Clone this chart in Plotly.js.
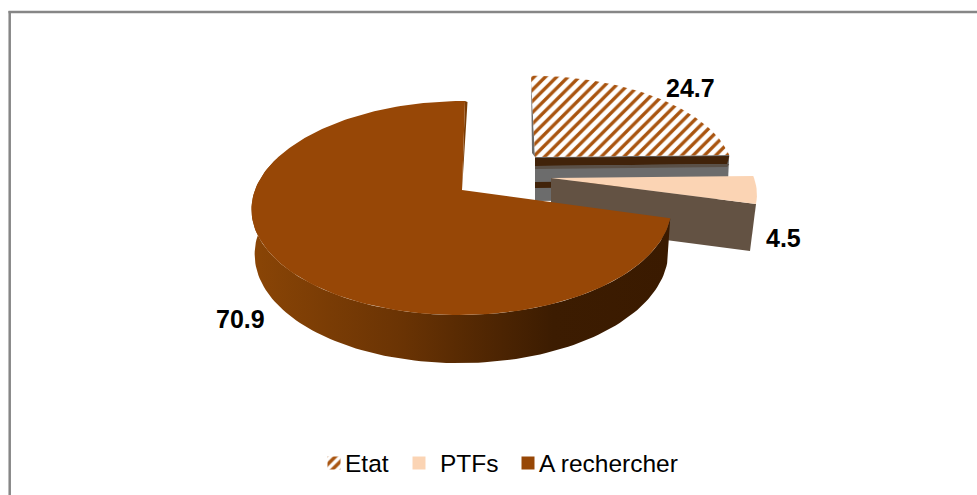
<!DOCTYPE html>
<html><head><meta charset="utf-8">
<script src="https://cdn.plot.ly/plotly-3.0.1.min.js"></script>
<style>html,body{margin:0;padding:0;background:#fff}#c{width:977px;height:495px}</style>
</head><body><div id="c"></div>
<script>
const categories = ["Etat", "PTFs", "A rechercher"];
const values = [24.7, 4.5, 70.9];
const topColors = ["#a9540f", "#FBD4B4", "#974706"];
const labelPos = [[690, 88], [783, 238], [240, 319]];
const legendSwatchX = [334, 419, 528];
const legendTextX = [345, 440, 539];

const total = values.reduce((a, b) => a + b, 0);
const edges = [0];
values.forEach(v => edges.push(edges[edges.length - 1] + v / total * 360));

const P = 0.168;
const geo = [
  {ax: 535, ay: 157, K: 195, k: 95, s: -4},
  {ax: 551, ay: 178, K: 203, k: 96, s: 0},
  {ax: 462, ay: 190, K: 207, k: 104, s: 3}
];
function pt(g, deg, depth, shrink) {
  const t = deg * Math.PI / 180, u = Math.sin(t), v = -Math.cos(t), w = 1 - P * v;
  const sc = shrink === undefined ? 1 : shrink;
  return [g.ax + sc * (g.K * u / w - g.s * v), g.ay + sc * (g.k * v / w) + (depth || 0)];
}
function arc(g, a, b, depth, shrink) {
  const n = Math.max(2, Math.ceil(Math.abs(b - a) / 1.5)), out = [];
  for (let i = 0; i <= n; i++) out.push(pt(g, a + (b - a) * i / n, depth, shrink));
  return out;
}
function poly(points, extra) {
  return Object.assign({
    type: "scatter", mode: "lines", x: points.map(p => p[0]), y: points.map(p => p[1]),
    fill: "toself", line: {width: 0}, showlegend: false, hoverinfo: "skip"
  }, extra);
}
const apex = g => [g.ax, g.ay];
const traces = [];

// Etat: radial wall with its banded side, then the hatched top
const gE = geo[0], rimE = pt(gE, edges[1]);
function band(d0, d1, color) {
  traces.push(poly([[gE.ax, gE.ay + d0], [rimE[0], rimE[1] + d0], [rimE[0] - 2, rimE[1] + d1], [gE.ax, gE.ay + d1]], {fillcolor: color}));
}
const grey = "#6c6c6c", dark = "#41230a";
band(0, 44, grey);
band(1, 9, dark);
band(9, 12, "#5a5047");
band(25, 31, dark);
const rimE0 = pt(gE, edges[0]);
traces.push(poly([rimE0, apex(gE), [gE.ax - 3, gE.ay - 4]], {fillcolor: "#6c6c6c"}));
traces.push(poly([apex(gE)].concat(arc(gE, edges[0], edges[1])), {
  name: categories[0], hoverinfo: "name", fillcolor: "#ffffff",
  fillpattern: {shape: "/", fgcolor: topColors[0], bgcolor: "#ffffff", size: 8, solidity: 0.42}
}));

// PTFs: wall then top
const gP = geo[1], rimP = pt(gP, edges[2]);
traces.push(poly([apex(gP), rimP, [rimP[0] - 6, rimP[1] + 47], [gP.ax, gP.ay + 47]], {fillcolor: "#635243"}));
traces.push(poly([apex(gP)].concat(arc(gP, edges[1], edges[2])), {
  name: categories[1], hoverinfo: "name", fillcolor: topColors[1]
}));

// A rechercher: curved side with gradient, inner cut, then top
const gA = geo[2];
const upper = arc(gA, edges[2], 288);
const lower = upper.map((_, i) => {
  const deg = edges[2] + (288 - edges[2]) * i / (upper.length - 1);
  const v = -Math.cos(deg * Math.PI / 180);
  return pt(gA, deg, 44 + 6 * Math.max(v, 0), 0.985);
});
traces.push(poly(upper.concat(lower.reverse()), {
  fillgradient: {type: "horizontal", colorscale: [[0, "#8a4506"], [0.35, "#6b3404"], [0.72, "#3c1c01"], [1, "#3a1a00"]]}
}));
const rimA = pt(gA, edges[3]);
traces.push(poly([rimA, apex(gA), [rimA[0] + 2.5, rimA[1] + 1]], {fillcolor: "#7a3c04"}));
traces.push(poly([apex(gA)].concat(arc(gA, edges[2], edges[3])), {
  name: categories[2], hoverinfo: "name", fillcolor: topColors[2]
}));

// Legend swatches
const half = 6.5, cy = 463;
categories.forEach((c, i) => {
  const sx = legendSwatchX[i];
  const sq = [[sx - half, cy - half], [sx + half, cy - half], [sx + half, cy + half], [sx - half, cy + half]];
  if (i === 0) {
    traces.push(poly(sq, {fillcolor: "#ffffff", fillpattern: {shape: "/", fgcolor: topColors[0], bgcolor: "#ffffff", size: 7, solidity: 0.5}}));
  } else {
    traces.push(poly(sq, {fillcolor: topColors[i]}));
  }
});

const annotations = [];
values.forEach((v, i) => annotations.push({
  x: labelPos[i][0], y: labelPos[i][1], xref: "x", yref: "y", text: String(v), showarrow: false,
  font: {family: "Liberation Sans, Arial, sans-serif", size: 25, color: "#000", weight: 700}
}));
categories.forEach((c, i) => annotations.push({
  x: legendTextX[i], y: cy, xref: "x", yref: "y", xanchor: "left", xshift: -2, text: c, showarrow: false,
  font: {family: "Liberation Sans, Arial, sans-serif", size: 24.5, color: "#000"}
}));

const frame = {color: "#868686", width: 2.5};
Plotly.newPlot("c", traces, {
  width: 977, height: 495, margin: {l: 0, r: 0, t: 0, b: 0},
  paper_bgcolor: "#fff", plot_bgcolor: "#fff", showlegend: false,
  xaxis: {range: [0, 977], visible: false, fixedrange: true},
  yaxis: {range: [495, 0], visible: false, fixedrange: true},
  shapes: [
    {type: "line", xref: "x", yref: "y", x0: 8.5, y0: 12, x1: 977, y1: 12, line: frame, layer: "below"},
    {type: "line", xref: "x", yref: "y", x0: 9.7, y0: 11, x1: 9.7, y1: 495, line: frame, layer: "below"}
  ],
  annotations: annotations
}, {displayModeBar: false, responsive: false});
</script></body></html>
